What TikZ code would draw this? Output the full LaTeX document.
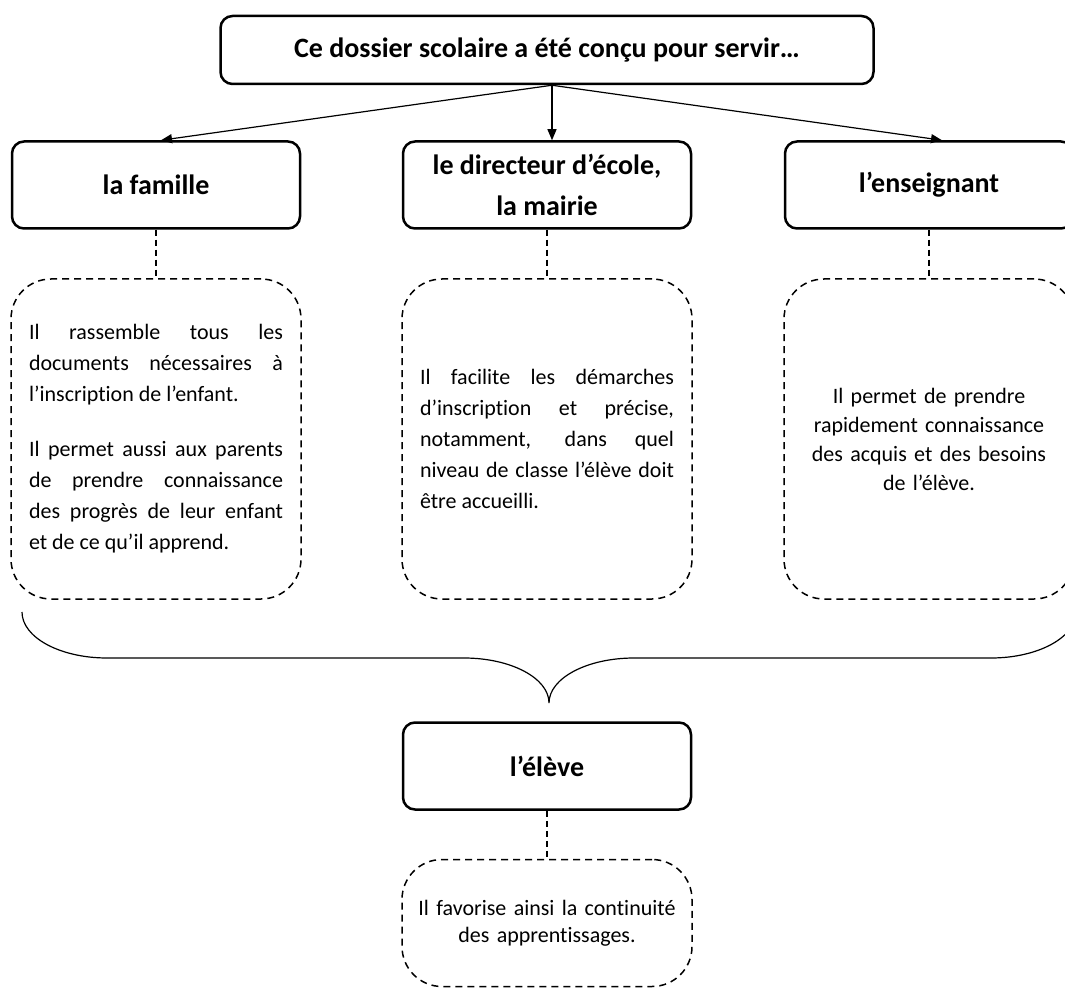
\documentclass[tikz,border=0pt]{standalone}
\usepackage{fontspec}
\setmainfont{Carlito}[Ligatures=NoCommon]
\usetikzlibrary{arrows.meta}
\hyphenpenalty=10000
\begin{document}
\begin{tikzpicture}[x=1pt,y=1pt]
    \tikzstyle{line} = [-{Triangle[length=11pt,width=9pt]}, line width=1.2pt]
    \tikzstyle{head} = [rectangle, rounded corners=12pt, draw=black, line width=2.5pt, align=center, minimum width=288pt, minimum height=87pt, font=\fontsize{28}{41}\selectfont\bfseries]
    \tikzstyle{note} = [rectangle, rounded corners=40pt, draw=black, line width=1.5pt, dash pattern=on 7pt off 5pt, minimum width=290pt, minimum height=320pt, text width=254pt, font=\fontsize{22}{31}\selectfont]
    \tikzstyle{link} = [line width=1.2pt, dash pattern=on 6pt off 4pt]
    \tikzstyle{brace} = [line width=1.2pt]

    \useasboundingbox (0,0) rectangle (1065,-992);

    \node(dossier) [head, minimum width=653pt, minimum height=68pt] at (547,-50) {Ce dossier scolaire a été conçu pour servir…};
    \node(directeur) [head, below of=dossier, node distance=135pt] {le directeur d’école,\\ la mairie};
    \node(famille) [head, left of=directeur, node distance=391pt] {la famille};
    \node(enseignant) [head, right of=directeur, node distance=382pt] {l’enseignant};

    \node(famillenote) [note, align=justify, below of=famille, node distance=254pt]
    {Il rassemble tous les\linebreak documents nécessaires à\linebreak l’inscription de l’enfant.\\[24pt]
    Il permet aussi aux parents\linebreak de prendre connaissance\linebreak des progrès de leur enfant\linebreak et de ce qu’il apprend.};
    \node(directeurnote) [note, align=justify, below of=directeur, node distance=254pt]
    {Il facilite les démarches\linebreak d’inscription et précise,\linebreak notamment, dans quel\linebreak niveau de classe l’élève doit\linebreak être accueilli.};
    \node(enseignantnote) [note, align=center, below of=enseignant, node distance=254pt, font=\fontsize{22}{29}\selectfont]
    {Il permet de prendre\\ rapidement connaissance\\ des acquis et des besoins\\ de l’élève.};

    \node(eleve) [head, below of=directeur, node distance=581pt] {l’élève};
    \node(elevenote) [note, align=center, below of=eleve, node distance=157pt, minimum height=127pt, text width=280pt, font=\fontsize{22}{27}\selectfont]
    {Il favorise ainsi la continuité\\ des apprentissages.};

    \draw[line] ([xshift=5pt]dossier.south) -- ([xshift=5pt]famille.north);
    \draw[line] ([xshift=5pt]dossier.south) -- ([xshift=5pt]directeur.north);
    \draw[line] ([xshift=5pt]dossier.south) -- ([xshift=13pt]enseignant.north);

    \draw[link] (famille) -- (famillenote);
    \draw[link] (directeur) -- (directeurnote);
    \draw[link] (enseignant) -- (enseignantnote);
    \draw[link] (eleve) -- (elevenote);

    % accolade
    \draw[brace] (22,-612) arc[start angle=180, end angle=270, x radius=85, y radius=46]
        -- (464,-658) arc[start angle=90, end angle=0, x radius=85, y radius=45]
        arc[start angle=180, end angle=90, x radius=85, y radius=45]
        -- (991,-658) arc[start angle=270, end angle=360, x radius=85, y radius=46];
\end{tikzpicture}
\end{document}
